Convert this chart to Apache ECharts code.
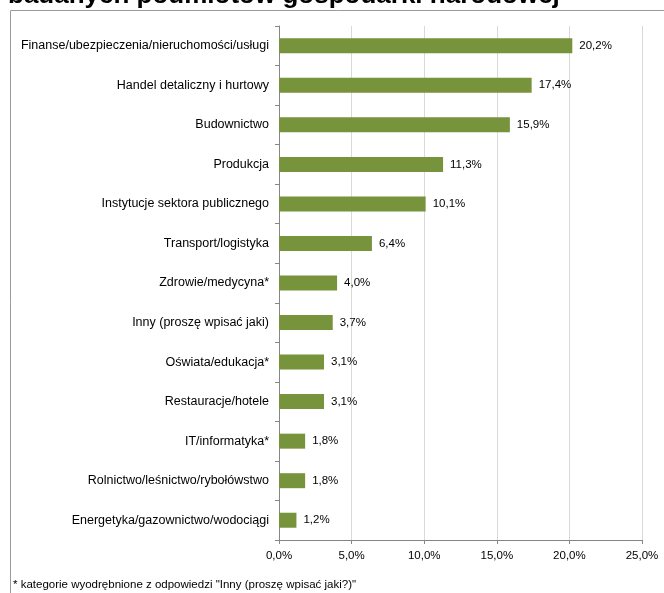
<!DOCTYPE html>
<html><head><meta charset="utf-8">
<script src="https://cdn.jsdelivr.net/npm/echarts@6/dist/echarts.min.js"></script>
<style>html,body{margin:0;padding:0;background:#fff}#c{width:664px;height:593px}</style>
</head><body><div id="c"></div>
<script>
const categories = [
  "Finanse/ubezpieczenia/nieruchomości/usługi",
  "Handel detaliczny i hurtowy",
  "Budownictwo",
  "Produkcja",
  "Instytucje sektora publicznego",
  "Transport/logistyka",
  "Zdrowie/medycyna*",
  "Inny (proszę wpisać jaki)",
  "Oświata/edukacja*",
  "Restauracje/hotele",
  "IT/informatyka*",
  "Rolnictwo/leśnictwo/rybołówstwo",
  "Energetyka/gazownictwo/wodociągi"
];
const values = [20.2, 17.4, 15.9, 11.3, 10.1, 6.4, 4.0, 3.7, 3.1, 3.1, 1.8, 1.8, 1.2];
const titleText = "badanych podmiotów gospodarki narodowej";
const footnote = "* kategorie wyodrębnione z odpowiedzi \"Inny (proszę wpisać jaki?)\"";

const fmt = v => v.toFixed(1).replace('.', ',') + '%';
const chart = echarts.init(document.getElementById('c'));
chart.setOption({
  animation: false,
  textStyle: { fontFamily: 'Liberation Sans, Arial, sans-serif' },
  grid: { left: 279, right: 22, top: 26, bottom: 53 },
  graphic: [
    { type: 'rect', shape: { x: 10.5, y: 10.5, width: 700, height: 700 }, style: { fill: 'none', stroke: '#9a9a9a', lineWidth: 1 }, z: -1 },
    { type: 'text', left: 8, top: -17, style: { text: titleText, font: 'bold 26px Liberation Sans, Arial, sans-serif', fill: '#000' } },
    { type: 'text', left: 13, top: 579, style: { text: footnote, font: '11.5px Liberation Sans, Arial, sans-serif', fill: '#000' } }
  ],
  xAxis: {
    type: 'value', min: 0, max: 25, interval: 5,
    axisLine: { show: true, lineStyle: { color: '#868686' } },
    axisTick: { show: true, length: 4, lineStyle: { color: '#868686' } },
    splitLine: { lineStyle: { color: '#d9d9d9' } },
    axisLabel: { formatter: v => fmt(v), color: '#000', fontSize: 11.5, margin: 10 }
  },
  yAxis: {
    type: 'category', data: categories, inverse: true,
    axisLine: { lineStyle: { color: '#868686' } },
    axisTick: { show: true, length: 4, lineStyle: { color: '#868686' } },
    axisLabel: { color: '#000', fontSize: 12.5, margin: 10 }
  },
  series: [{
    type: 'bar', data: values, barWidth: 15,
    itemStyle: { color: '#77933C' },
    label: { show: true, position: 'right', distance: 7, formatter: p => fmt(p.value), color: '#000', fontSize: 11.5 }
  }]
});
</script></body></html>
